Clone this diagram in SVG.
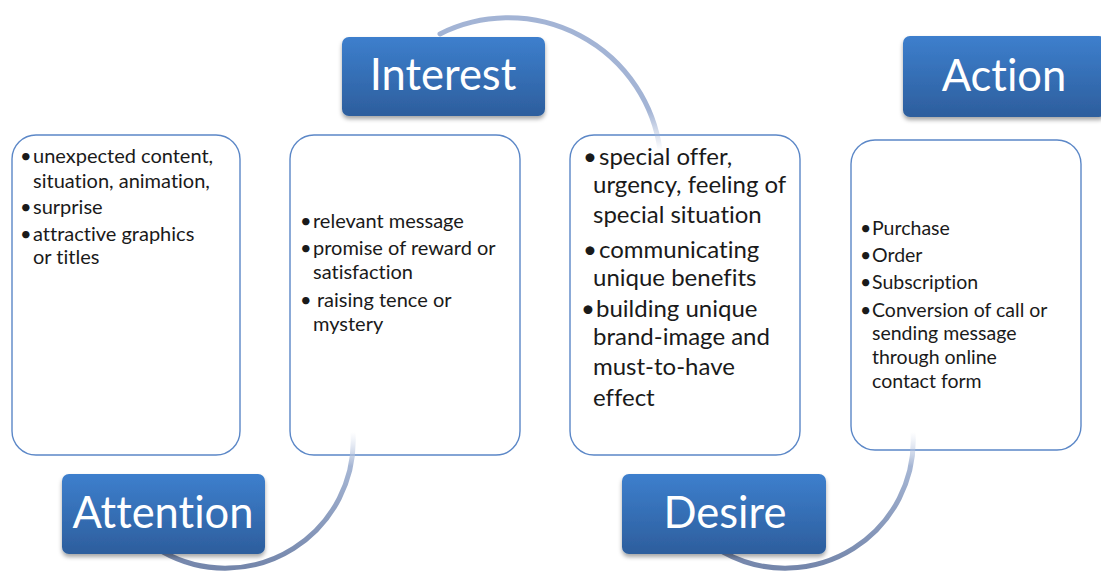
<svg xmlns="http://www.w3.org/2000/svg" width="1101" height="572" viewBox="0 0 1101 572">
  <defs>
    <linearGradient id="hdrFill" x1="0" y1="0" x2="0" y2="1">
      <stop offset="0" stop-color="#3d7fcd"/>
      <stop offset="1" stop-color="#2d5e9d"/>
    </linearGradient>
    <filter id="hdrShadow" x="-10%" y="-10%" width="120%" height="130%">
      <feDropShadow dx="0" dy="3" stdDeviation="2" flood-color="#000" flood-opacity="0.35"/>
    </filter>
    <!-- top arc fades where it enters the Desire text box -->
    <linearGradient id="arcTop" gradientUnits="userSpaceOnUse" x1="0" y1="110" x2="0" y2="150">
      <stop offset="0" stop-color="#a3b4d5"/>
      <stop offset="1" stop-color="#a3b4d5" stop-opacity="0"/>
    </linearGradient>
    <!-- lower arcs fade in from the text boxes and darken toward their ends -->
    <linearGradient id="arcLow" x1="0" y1="0" x2="0" y2="1">
      <stop offset="0" stop-color="#c8d3e8" stop-opacity="0"/>
      <stop offset="0.25" stop-color="#a6b6d4"/>
      <stop offset="1" stop-color="#7486ab"/>
    </linearGradient>
  </defs>
  <style>
    .box { fill: #ffffff; stroke: #5b87c7; stroke-width: 1.4; }
    .hdr rect { fill: url(#hdrFill); filter: url(#hdrShadow); }
    .hdr text { fill: #ffffff; font-family: Lato, "Open Sans", sans-serif; font-size: 43.5px; text-anchor: middle; font-variant-ligatures: none; }
    .txt { fill: #1a1a1a; font-family: Lato, "Open Sans", sans-serif; font-variant-ligatures: none; }
    .s20 { font-size: 20px; }
    .s19 { font-size: 19.5px; }
    .s24 { font-size: 24px; }
    .arc { fill: none; stroke-width: 5; stroke-linecap: round; }
  </style>

  <rect width="1101" height="572" fill="#ffffff"/>

  <!-- Attention details -->
  <g id="box-attention">
    <rect class="box" x="12" y="135" width="228" height="320" rx="24"/>
    <g class="txt s20">
      <text x="20" y="163">•</text><text x="33" y="163">unexpected content,</text>
      <text x="33" y="188">situation, animation,</text>
      <text x="20" y="214">•</text><text x="33" y="214">surprise</text>
      <text x="20" y="241">•</text><text x="33" y="241">attractive graphics</text>
      <text x="33" y="264">or titles</text>
    </g>
  </g>

  <!-- Interest details -->
  <g id="box-interest">
    <rect class="box" x="290" y="135" width="230" height="320" rx="24"/>
    <g class="txt s20">
      <text x="300" y="228">•</text><text x="313" y="228">relevant message</text>
      <text x="300" y="255">•</text><text x="313" y="255">promise of reward or</text>
      <text x="313" y="279">satisfaction</text>
      <text x="300" y="307">•</text><text x="317" y="307">raising tence or</text>
      <text x="313" y="331">mystery</text>
    </g>
  </g>

  <!-- Desire details -->
  <g id="box-desire">
    <rect class="box" x="570" y="135" width="230" height="320" rx="24"/>
    <g class="txt s24">
      <text x="583" y="165">•</text><text x="599" y="165">special offer,</text>
      <text x="593" y="193">urgency, feeling of</text>
      <text x="593" y="223">special situation</text>
      <text x="583" y="258">•</text><text x="599" y="258">communicating</text>
      <text x="593" y="286">unique benefits</text>
      <text x="581" y="317">•</text><text x="596" y="317">building unique</text>
      <text x="593" y="345">brand-image and</text>
      <text x="593" y="375">must-to-have</text>
      <text x="593" y="406">effect</text>
    </g>
  </g>

  <!-- Action details -->
  <g id="box-action">
    <rect class="box" x="851" y="140" width="230" height="310" rx="24"/>
    <g class="txt s19">
      <text x="860" y="235">•</text><text x="872" y="235">Purchase</text>
      <text x="860" y="262">•</text><text x="872" y="262">Order</text>
      <text x="860" y="289">•</text><text x="872" y="289">Subscription</text>
      <text x="860" y="317">•</text><text x="872" y="317">Conversion of call or</text>
      <text x="872" y="340">sending message</text>
      <text x="872" y="364">through online</text>
      <text x="872" y="388">contact form</text>
    </g>
  </g>

  <!-- curved connectors between stages -->
  <g id="connectors">
    <path class="arc" stroke="url(#arcTop)" d="M 440,34 A 153 153 0 0 1 660,150"/>
    <path class="arc" stroke="url(#arcLow)" d="M 353,432 A 128 128 0 0 1 163,552"/>
    <path class="arc" stroke="url(#arcLow)" d="M 913,432 A 128 128 0 0 1 723,552"/>
  </g>

  <!-- stage headers -->
  <g id="hdr-interest" class="hdr">
    <rect x="342" y="37" width="203" height="79" rx="7"/>
    <text x="443" y="90">Interest</text>
  </g>
  <g id="hdr-attention" class="hdr">
    <rect x="62" y="474" width="203" height="80" rx="7"/>
    <text x="163" y="528">Attention</text>
  </g>
  <g id="hdr-desire" class="hdr">
    <rect x="622" y="474" width="204" height="80" rx="7"/>
    <text x="725" y="528">Desire</text>
  </g>
  <g id="hdr-action" class="hdr">
    <rect x="903" y="36" width="203" height="81" rx="7"/>
    <text x="1004" y="91">Action</text>
  </g>
</svg>
